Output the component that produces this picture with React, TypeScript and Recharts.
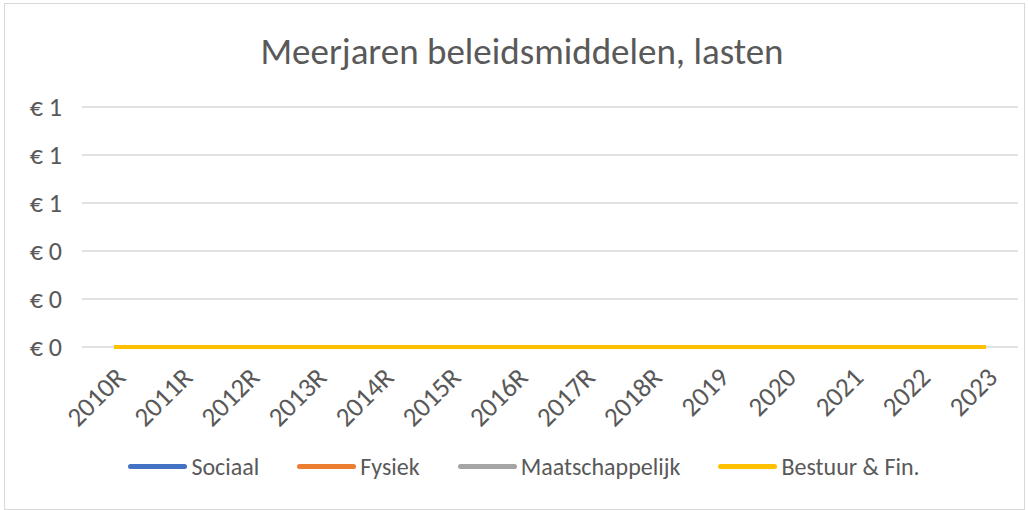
import { LineChart, Line, XAxis, YAxis, CartesianGrid, Legend } from 'recharts';

const years = ['2010R', '2011R', '2012R', '2013R', '2014R', '2015R', '2016R', '2017R', '2018R', '2019', '2020', '2021', '2022', '2023'];
const sociaal = [0, 0, 0, 0, 0, 0, 0, 0, 0, 0, 0, 0, 0, 0];
const fysiek = [0, 0, 0, 0, 0, 0, 0, 0, 0, 0, 0, 0, 0, 0];
const maatschappelijk = [0, 0, 0, 0, 0, 0, 0, 0, 0, 0, 0, 0, 0, 0];
const bestuur = [0, 0, 0, 0, 0, 0, 0, 0, 0, 0, 0, 0, 0, 0];
const yTicks = [0, 0.2, 0.4, 0.6, 0.8, 1];

const series = [
  { key: 'sociaal', name: 'Sociaal', color: '#4472C4' },
  { key: 'fysiek', name: 'Fysiek', color: '#ED7D31' },
  { key: 'maatschappelijk', name: 'Maatschappelijk', color: '#A5A5A5' },
  { key: 'bestuur', name: 'Bestuur & Fin.', color: '#FFC000' },
];

const data = years.map((year, i) => ({
  year,
  sociaal: sociaal[i],
  fysiek: fysiek[i],
  maatschappelijk: maatschappelijk[i],
  bestuur: bestuur[i],
}));

const FONT = 'Carlito, Lato, sans-serif';
const TEXT = '#595959';

const XTick = (props: any) => {
  const { x, y, payload } = props;
  const ax = x + 13;
  const ay = y + 24;
  return (
    <text x={ax} y={ay} textAnchor="end" fill={TEXT} fontSize={27} fontFamily={FONT} transform={`rotate(-45, ${ax}, ${ay})`}>
      {payload.value}
    </text>
  );
};

const LegendContent = (props: any) => {
  const payload = [...(props.payload || [])].sort(
    (a: any, b: any) => series.findIndex((s) => s.name === a.value) - series.findIndex((s) => s.name === b.value)
  );
  return (
    <div style={{ display: 'flex', justifyContent: 'center', fontFamily: FONT, fontSize: 24, color: TEXT }}>
      {payload.map((p: any, i: number) => (
        <div key={p.value} style={{ display: 'flex', alignItems: 'center', marginLeft: i === 0 ? 0 : 38 }}>
          <div style={{ width: 59, height: 5, borderRadius: 3, background: p.color, marginRight: 4 }} />
          <span>{p.value}</span>
        </div>
      ))}
    </div>
  );
};

export default function App() {
  return (
    <div style={{ position: 'absolute', left: 0, top: 0, width: 1028, height: 510, background: '#fff' }}>
      <div style={{ position: 'absolute', left: 4, top: 3, width: 1019, height: 505, border: '1px solid #d9d9d9' }} />
      <div style={{ position: 'absolute', left: 8, top: 29, width: 1028, textAlign: 'center', fontFamily: FONT, fontSize: 37, color: TEXT }}>
        Meerjaren beleidsmiddelen, lasten
      </div>
      <div style={{ position: 'absolute', left: 0, top: 0 }}>
        <LineChart width={1028} height={510} data={data} margin={{ top: 107, right: 10, left: 0, bottom: 103 }}>
          <CartesianGrid vertical={false} stroke="#d9d9d9" strokeWidth={1.3} />
          <XAxis
            dataKey="year"
            axisLine={false}
            tickLine={false}
            interval={0}
            height={60}
            padding={{ left: 32, right: 32 }}
            tick={<XTick />}
          />
          <YAxis
            domain={[0, 1]}
            ticks={yTicks}
            width={82}
            axisLine={false}
            tickLine={false}
            tickSize={0}
            tickMargin={20}
            tickFormatter={(v: number) => `€ ${Math.round(v)}`}
            tick={{ fill: TEXT, fontSize: 26, fontFamily: FONT }}
          />
          <Legend
            verticalAlign="middle"
            align="center"
            content={<LegendContent />}
            wrapperStyle={{ top: 452, left: 10, width: 1028 }}
          />
          {series.map((s) => (
            <Line
              key={s.key}
              type="linear"
              dataKey={s.key}
              name={s.name}
              stroke={s.color}
              strokeWidth={4}
              dot={false}
              isAnimationActive={false}
            />
          ))}
        </LineChart>
      </div>
    </div>
  );
}
